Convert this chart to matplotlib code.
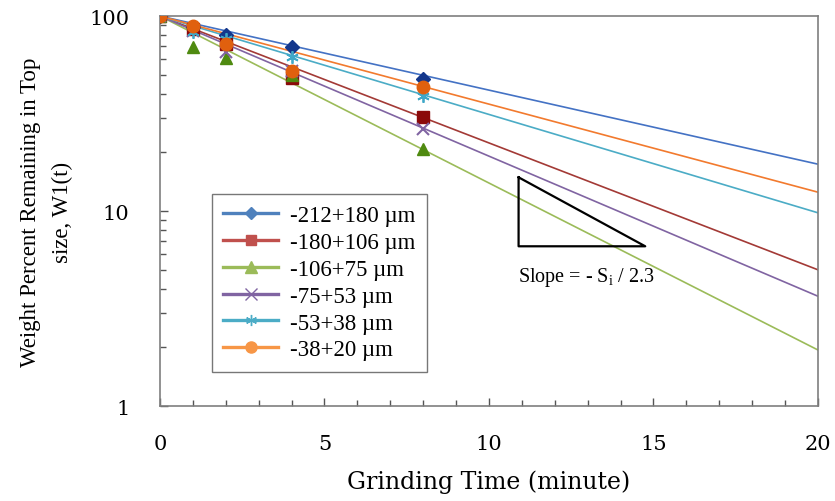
import numpy as np
import matplotlib.pyplot as plt
from matplotlib.ticker import LogLocator, NullFormatter, MultipleLocator

# Grinding time (minute)
times = [0, 1, 2, 4, 8]

labels = ['-212+180 \u00b5m', '-180+106 \u00b5m', '-106+75 \u00b5m',
          '-75+53 \u00b5m', '-53+38 \u00b5m', '-38+20 \u00b5m']

# measured weight percent remaining in top size
w_212 = [100, 87.8, 80.0, 69.3, 47.5]
w_180 = [100, 85.8, 71.8, 48.0, 30.3]
w_106 = [100, 69.3, 60.9, 50.0, 20.8]
w_75 = [100, 83.8, 65.4, 52.0, 26.3]
w_53 = [100, 82.8, 76.2, 61.6, 38.9]
w_38 = [100, 88.9, 71.8, 52.0, 43.3]

# fitted line value at t = 20 min (lines start at 100 at t = 0)
fit_end_t = 20
fit_end = [17.4, 5.0, 1.94, 3.66, 9.8, 12.5]

# slope sketch triangle and its label
tri_x = [10.9, 10.9, 14.75, 10.9]
tri_y = [14.9, 6.6, 6.6, 14.9]

series = [w_212, w_180, w_106, w_75, w_53, w_38]
line_colors = ['#4472C4', '#A33A36', '#9BBB59', '#8064A2', '#4BACC6', '#F27A2E']
leg_colors = ['#4F81BD', '#C0504D', '#9BBB59', '#8064A2', '#4BACC6', '#F79646']
mk_colors = ['#14378C', '#8B0A0A', '#4F8A10', '#8064A2', '#3FA8C8', '#E0600E']
markers = ['D', 's', '^', 'x', '*', 'o']
msizes = [7, 8, 9, 9, 9, 9]


def main():
    plt.rcParams['font.family'] = ['Liberation Serif', 'DejaVu Serif']
    fig = plt.figure(figsize=(8.35, 5.02), dpi=100)
    ax = fig.add_axes([0.1916, 0.189, 0.788, 0.777])

    t_fit = np.array([0, fit_end_t])
    for i, ys in enumerate(series):
        ax.plot(t_fit, [100, fit_end[i]], color=line_colors[i], lw=1.2, zorder=2)
        if markers[i] == 'x':
            ax.plot(times, ys, ls='none', marker='x', ms=msizes[i],
                    mew=1.5, color=mk_colors[i], zorder=3)
        elif markers[i] == '*':
            ax.plot(times, ys, ls='none', marker=(6, 2, 0), ms=msizes[i],
                    mew=1.3, color=mk_colors[i], zorder=3)
        else:
            ax.plot(times, ys, ls='none', marker=markers[i], ms=msizes[i],
                    color=mk_colors[i], mec=mk_colors[i], zorder=3)
        # legend proxy
        mk = (6, 2, 0) if markers[i] == '*' else markers[i]
        ax.plot([], [], color=leg_colors[i], lw=2.4, marker=mk, ms=msizes[i] - 1,
                mfc=leg_colors[i], mec=leg_colors[i], mew=1, label=labels[i])

    ax.plot(tri_x, tri_y, color='black', lw=1.6, zorder=4)
    ax.text(12.95, 4.6, 'Slope = - S$_\\mathregular{i}$ / 2.3', ha='center', va='center',
            fontsize=14.5)

    ax.set_yscale('log')
    ax.set_xlim(0, 20)
    ax.set_ylim(1, 100)
    ax.xaxis.set_major_locator(MultipleLocator(5))
    ax.xaxis.set_minor_locator(MultipleLocator(1))
    ax.yaxis.set_minor_locator(LogLocator(base=10, subs=np.arange(2, 10), numticks=20))
    ax.yaxis.set_minor_formatter(NullFormatter())
    ax.set_yticks([1, 10, 100])
    ax.set_yticklabels(['1', '10', '100'])

    ax.tick_params(which='both', direction='in', colors='#555555', width=1)
    ax.tick_params(which='major', length=6, labelcolor='black', labelsize=15)
    ax.tick_params(which='minor', length=4)
    ax.tick_params(axis='x', which='major', pad=20)
    ax.tick_params(axis='y', which='major', pad=22)
    for lab in ax.get_xticklabels() + ax.get_yticklabels():
        lab.set_family('DejaVu Serif')
    for sp in ax.spines.values():
        sp.set_color('#7f7f7f')
        sp.set_linewidth(1.2)

    ax.set_xlabel('Grinding Time (minute)', family='DejaVu Serif', fontsize=17,
                  labelpad=12)
    ax.set_ylabel('Weight Percent Remaining in Top\nsize, W1(t)', fontsize=16.5,
                  labelpad=12, linespacing=1.65)

    leg = ax.legend(loc='upper left', bbox_to_anchor=(0.079, 0.544), fontsize=16.5,
                    fancybox=False, edgecolor='#555555', handlelength=2.4,
                    labelspacing=0.25, borderpad=0.5, handletextpad=0.5,
                    borderaxespad=0)
    leg.get_frame().set_linewidth(1.0)

    fig.savefig('out.png', dpi=100)


if __name__ == '__main__':
    main()
